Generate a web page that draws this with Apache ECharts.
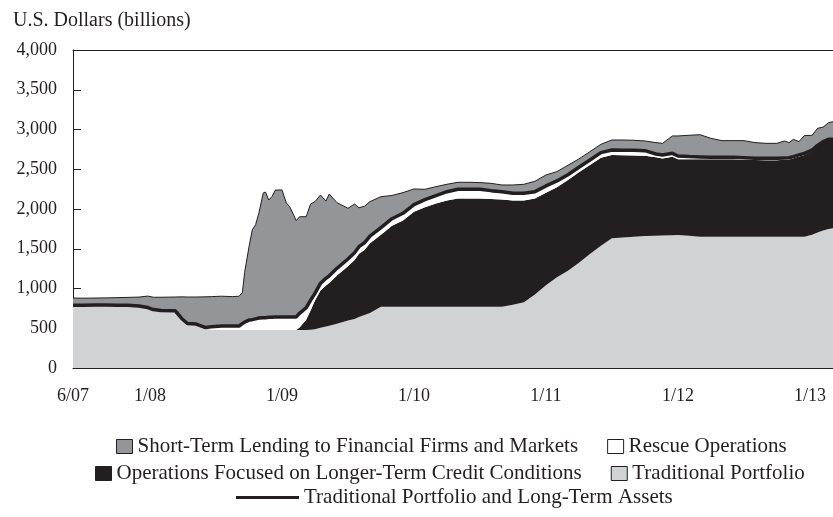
<!DOCTYPE html>
<html>
<head>
<meta charset="utf-8">
<script src="https://cdn.jsdelivr.net/npm/echarts@6/dist/echarts.min.js"></script>
<style>
  html, body { margin: 0; padding: 0; background: #fff; }
  #chart { width: 833px; height: 517px; }
</style>
</head>
<body>
<div id="chart"></div>
<script>
// observation dates (roughly monthly, denser around the 2008 spike)
const dates = [
  '2007-06-01', '2007-07-01', '2007-08-01', '2007-09-01', '2007-10-01', '2007-11-01', '2007-12-01', '2007-12-25',
  '2008-01-10', '2008-02-01', '2008-03-10', '2008-03-28', '2008-04-13', '2008-05-07', '2008-06-01', '2008-06-19',
  '2008-07-16', '2008-08-16', '2008-09-04', '2008-09-13', '2008-09-19', '2008-10-01', '2008-10-10', '2008-10-19',
  '2008-10-28', '2008-11-10', '2008-11-16', '2008-11-25', '2008-12-04', '2008-12-13', '2009-01-01', '2009-01-13',
  '2009-01-22', '2009-02-10', '2009-02-19', '2009-03-07', '2009-03-19', '2009-04-01', '2009-04-16', '2009-05-01',
  '2009-05-10', '2009-06-01', '2009-07-01', '2009-07-19', '2009-08-01', '2009-08-16', '2009-09-01', '2009-10-01',
  '2009-11-01', '2009-12-01', '2010-01-01', '2010-02-01', '2010-03-01', '2010-04-01', '2010-05-01', '2010-06-01',
  '2010-07-01', '2010-08-01', '2010-09-01', '2010-10-01', '2010-11-01', '2010-12-01', '2011-01-01', '2011-02-01',
  '2011-03-01', '2011-04-01', '2011-05-01', '2011-06-01', '2011-07-01', '2011-08-01', '2011-09-01', '2011-10-01',
  '2011-11-01', '2011-11-19', '2011-12-16', '2012-01-01', '2012-02-01', '2012-03-01', '2012-04-01', '2012-05-01',
  '2012-06-01', '2012-07-01', '2012-08-01', '2012-09-01', '2012-10-01', '2012-10-22', '2012-11-04', '2012-11-16',
  '2012-12-01', '2012-12-16', '2013-01-07', '2013-01-22', '2013-02-07', '2013-02-22', '2013-03-04'
]

// U.S. dollars (billions)
const traditional = [
  790, 790, 792, 792, 790, 788, 780, 760,
  735, 722, 720, 620, 560, 552, 510, 478,
  478, 478, 478, 478, 478, 478, 478, 478,
  478, 478, 478, 478, 478, 478, 478, 478,
  478, 478, 478, 478, 482, 486, 505, 521,
  530, 558, 596, 616, 642, 666, 692, 772,
  772, 772, 772, 772, 772, 772, 772, 772,
  772, 772, 772, 797, 826, 926, 1040, 1141,
  1224, 1325, 1434, 1539, 1631, 1640, 1652, 1660,
  1665, 1668, 1670, 1673, 1665, 1652, 1652, 1652,
  1652, 1652, 1652, 1652, 1652, 1652, 1652, 1652,
  1652, 1652, 1675, 1705, 1728, 1749, 1757
]

const longerTerm = [
  0, 0, 0, 0, 0, 0, 0, 0,
  0, 0, 0, 0, 0, 0, 0, 0,
  0, 0, 0, 0, 0, 0, 0, 0,
  0, 0, 0, 0, 0, 0, 0, 0,
  0, 0, 30, 130, 240, 363, 470, 517,
  540, 606, 685, 744, 794, 819, 878, 903,
  1016, 1084, 1193, 1251, 1296, 1336, 1361, 1361,
  1361, 1354, 1346, 1310, 1281, 1207, 1165, 1132,
  1142, 1137, 1120, 1105, 1049, 1035, 1021, 1009,
  985, 967, 988, 954, 960, 973, 973, 973,
  973, 969, 965, 961, 961, 966, 971, 986,
  1007, 1027, 1050, 1083, 1107, 1119, 1115
]

const rescue = [
  0, 0, 0, 0, 0, 0, 0, 0,
  0, 0, 0, 0, 0, 0, 0, 40,
  50, 50, 50, 80, 100, 125, 130, 140,
  150, 155, 155, 160, 160, 165, 165, 165,
  165, 165, 180, 150, 130, 90, 90, 90,
  90, 90, 90, 90, 90, 90, 90, 90,
  90, 90, 90, 95, 100, 110, 115, 115,
  115, 105, 100, 90, 90, 85, 85, 80,
  65, 63, 63, 65, 62, 63, 65, 65,
  42, 45, 42, 40, 34, 30, 25, 25,
  25, 25, 21, 25, 25, 22, 22, 21,
  21, 21, 15, 12, 12, 9, 5
]

const shortTerm = [
  90, 88, 88, 90, 95, 100, 112, 145,
  155, 168, 173, 275, 333, 341, 385, 380,
  375, 370, 375, 390, 620, 920, 1130, 1185,
  1320, 1570, 1580, 1475, 1520, 1595, 1597, 1432,
  1387, 1210, 1215, 1145, 1210, 1154, 1111, 972,
  1029, 826, 638, 613, 489, 460, 433, 390,
  292, 260, 197, 130, 113, 93, 88, 88,
  84, 92, 84, 105, 114, 131, 138, 117,
  119, 105, 104, 105, 126, 130, 126, 122,
  143, 146, 219, 252, 268, 280, 239, 210,
  210, 214, 197, 188, 188, 216, 190, 217,
  167, 223, 187, 215, 183, 209, 222
]

const xTickDates = ['2007-06-01', '2008-01-01', '2009-01-01', '2010-01-01', '2011-01-01', '2012-01-01', '2013-01-01']
const xEnd = '2013-03-04'
const yTicks = [0, 500, 1000, 1500, 2000, 2500, 3000, 3500, 4000]

const names = {
  st: 'Short-Term Lending to Financial Firms and Markets',
  rescue: 'Rescue Operations',
  lt: 'Operations Focused on Longer-Term Credit Conditions',
  trad: 'Traditional Portfolio',
  line: 'Traditional Portfolio and Long-Term Assets'
}

const ink = '#231f20'
const font = "'Liberation Serif', 'DejaVu Serif', serif"

// months since Jan 2007
const monthIndex = s => {
  const [y, m, d] = s.split('-').map(Number)
  return (y - 2007) * 12 + (m - 1) + (d - 1) / 30
}
const xs = dates.map(monthIndex)
// value first, so the stack is applied to y (encode maps x back to column 1)
const pair = arr => arr.map((v, i) => [v, xs[i]])

const areaSeries = (name, arr, color, extra) => Object.assign({
  name,
  type: 'line',
  stack: 'total',
  data: pair(arr),
  encode: { x: 1, y: 0 },
  symbol: 'none',
  color,
  itemStyle: { color },
  lineStyle: { width: 0 },
  areaStyle: { color, opacity: 1 }
}, extra || {})

const chart = echarts.init(document.getElementById('chart'))

const legendBase = {
  selectedMode: false,
  icon: 'rect',
  orient: 'horizontal',
  padding: 0,
  itemGap: 29,
  itemWidth: 16,
  itemHeight: 14,
  textStyle: { fontFamily: font, fontSize: 21, color: ink }
}

const xMin = monthIndex(xTickDates[0])
const xMax = monthIndex(xEnd)

chart.setOption({
  animation: false,
  backgroundColor: '#fff',
  title: {
    text: 'U.S. Dollars (billions)',
    left: 8,
    top: 6,
    textStyle: { fontFamily: font, fontSize: 20, fontWeight: 'normal', color: ink }
  },
  grid: {
    left: 73,
    right: 0,
    top: 50,
    bottom: 149
  },
  legend: [
    Object.assign({}, legendBase, {
      left: 116,
      top: 436,
      data: [
        { name: names.st, itemStyle: { borderColor: ink, borderWidth: 1 } },
        { name: names.rescue, itemStyle: { borderColor: ink, borderWidth: 1 } }
      ]
    }),
    Object.assign({}, legendBase, {
      left: 95,
      top: 463,
      data: [
        { name: names.lt, itemStyle: { borderColor: ink, borderWidth: 1 } },
        { name: names.trad, itemStyle: { borderColor: ink, borderWidth: 1 } }
      ]
    }),
    Object.assign({}, legendBase, {
      left: 236,
      top: 487,
      itemWidth: 63,
      itemHeight: 3,
      data: [{ name: names.line, itemStyle: { color: ink } }]
    })
  ],
  xAxis: [
    {
      type: 'value',
      min: xMin,
      max: xMax,
      axisLine: { show: true, lineStyle: { color: ink, width: 1 } },
      axisTick: {
        show: true,
        inside: true,
        length: 6,
        lineStyle: { color: ink },
        customValues: xTickDates.slice(1).map(monthIndex)
      },
      axisLabel: {
        customValues: xTickDates.map(monthIndex),
        margin: 19,
        fontFamily: font,
        fontSize: 18,
        color: ink,
        formatter: v => {
          const m = Math.round(v)
          const yy = 7 + Math.floor(m / 12)
          return (m % 12 + 1) + '/' + String(yy).padStart(2, '0')
        }
      },
      splitLine: { show: false }
    },
    {
      // top frame line only
      type: 'value',
      position: 'top',
      min: xMin,
      max: xMax,
      axisLine: { show: true, onZero: false, lineStyle: { color: ink, width: 1 } },
      axisTick: { show: false },
      axisLabel: { show: false },
      splitLine: { show: false }
    }
  ],
  yAxis: {
    type: 'value',
    min: yTicks[0],
    max: yTicks[yTicks.length - 1],
    interval: 500,
    axisLine: { show: true, lineStyle: { color: ink, width: 1 } },
    axisTick: { show: true, inside: true, length: 8, lineStyle: { color: ink } },
    axisLabel: {
      margin: 16,
      fontFamily: font,
      fontSize: 18,
      color: ink,
      formatter: v => v.toLocaleString('en-US')
    },
    splitLine: { show: false }
  },
  series: [
    areaSeries(names.trad, traditional, '#d1d2d4'),
    areaSeries(names.lt, longerTerm, ink),
    // top edge of this stack layer is the "traditional portfolio and long-term assets" line
    areaSeries(names.rescue, rescue, '#ffffff', {
      z: 4,
      lineStyle: { width: 3.5, color: ink }
    }),
    areaSeries(names.st, shortTerm, '#939598', {
      lineStyle: { width: 1, color: ink }
    }),
    {
      name: names.line,
      type: 'line',
      data: [],
      color: ink,
      itemStyle: { color: ink },
      lineStyle: { color: ink, width: 3.5 }
    }
  ]
})
</script>
</body>
</html>
